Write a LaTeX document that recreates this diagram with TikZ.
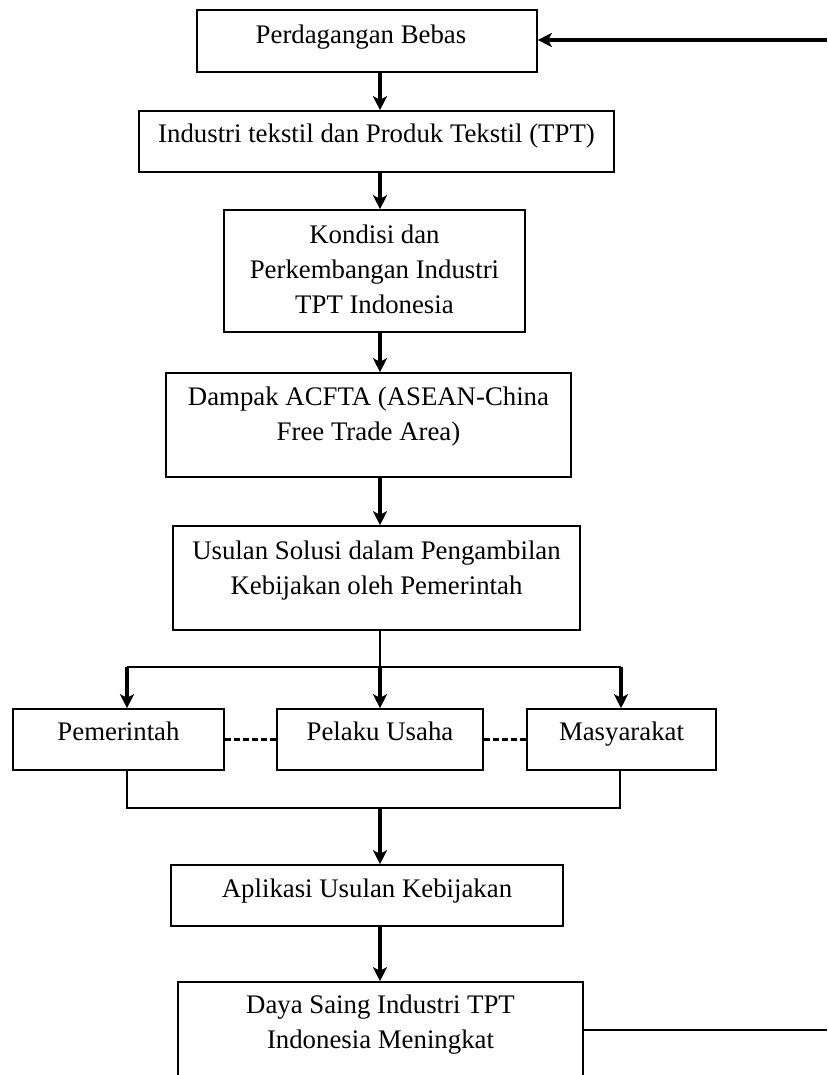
\documentclass[tikz,border=0pt]{standalone}
\usepackage{fontspec}
\setmainfont{Liberation Serif}
\usetikzlibrary{arrows.meta, positioning}

\begin{document}
\begin{tikzpicture}[
            x = 0.5pt, y = -0.5pt, % one unit per pixel, downwards
            box/.style={draw=black, line width=0.8pt, inner sep=0pt},
            txt/.style={anchor=north, inner sep=0pt, align=center, font=\fontsize{13.4}{17.5}\selectfont},
            flow/.style={-{Stealth[length=7pt, width=7pt, inset=1.8pt]}, line width=1.6pt},
            link/.style={line width=0.8pt},
            tie/.style={line width=1.6pt, dash pattern=on 3pt off 1.5pt}
        ]

        \useasboundingbox (0,0) rectangle (827,1075);
        \clip (0,0) rectangle (827,1075);

        % Main column boxes
        \node[box, minimum width=170pt, minimum height=31pt] (B-1) at (367,41) {};
        \node[box, minimum width=237.5pt, minimum height=30.5pt] (B-2) at (376.5,141.5) {};
        \node[box, minimum width=150.5pt, minimum height=61pt] (B-3) at (374.5,271) {};
        \node[box, minimum width=202.5pt, minimum height=52pt] (B-4) at (368.5,425) {};
        \node[box, minimum width=203.5pt, minimum height=52pt] (B-5) at (376.5,578) {};

        % Actor boxes
        \node[box, minimum width=105.5pt, minimum height=30.5pt] (R-1) at (118.5,739.5) {};
        \node[box, minimum width=103pt, minimum height=30.5pt] (R-2) at (380,739.5) {};
        \node[box, minimum width=94.5pt, minimum height=30.5pt] (R-3) at (621.5,739.5) {};

        % Result boxes
        \node[box, minimum width=196pt, minimum height=30.5pt] (B-6) at (367,895.5) {};
        \node[box, minimum width=202.5pt, minimum height=60pt] (B-7) at (380.5,1042) {};

        % Texts
        \node[txt] (T-1) at ([xshift=-3pt, yshift=-7.5pt]B-1.north) {Perdagangan Bebas};
        \node[txt] (T-2) at ([yshift=-6.5pt]B-2.north) {Industri tekstil dan Produk Tekstil (TPT)};
        \node[txt] (T-3) at ([yshift=-7.5pt]B-3.north) {Kondisi dan\\Perkembangan Industri\\TPT Indonesia};
        \node[txt] (T-4) at ([yshift=-7pt]B-4.north) {Dampak ACFTA (ASEAN-China\\Free Trade Area)};
        \node[txt] (T-5) at ([yshift=-7.5pt]B-5.north) {Usulan Solusi dalam Pengambilan\\Kebijakan oleh Pemerintah};
        \node[txt] (T-6) at ([yshift=-6.5pt]R-1.north) {Pemerintah};
        \node[txt] (T-7) at ([yshift=-6.5pt]R-2.north) {Pelaku Usaha};
        \node[txt] (T-8) at ([yshift=-6.5pt]R-3.north) {Masyarakat};
        \node[txt] (T-9) at ([yshift=-7pt]B-6.north) {Aplikasi Usulan Kebijakan};
        \node[txt] (T-10) at ([yshift=-6.5pt]B-7.north) {Daya Saing Industri TPT\\Indonesia Meningkat};

        % Helper points
        \coordinate (axis) at (380,0);
        \coordinate (split) at (380,667);
        \coordinate (split-L) at (127,667);
        \coordinate (split-R) at (621,667);
        \coordinate (join) at (380,808);
        \coordinate (join-L) at (127,808);
        \coordinate (join-R) at (620,808);
        \coordinate (loop-in) at (827,40);
        \coordinate (loop-out) at (827,1030);

        % Main flow
        \draw[flow] (B-1.south -| axis) -- (B-2.north -| axis);
        \draw[flow] (B-2.south -| axis) -- (B-3.north -| axis);
        \draw[flow] (B-3.south -| axis) -- (B-4.north -| axis);
        \draw[flow] (B-4.south -| axis) -- (B-5.north -| axis);

        % Branch to the actors
        \draw[link] (B-5.south -| axis) -- (split);
        \draw[link] (split-L) -- (split-R);
        \draw[flow] (split-L) -- (R-1.north -| split-L);
        \draw[flow] (split) -- (R-2.north -| split);
        \draw[flow] (split-R) -- (R-3.north -| split-R);
        \draw[tie] (R-1.east) -- (R-2.west);
        \draw[tie] (R-2.east) -- (R-3.west);

        % Join and result
        \draw[link] (R-1.south -| join-L) -- (join-L) -- (join-R) -- (R-3.south -| join-R);
        \draw[flow] (join) -- (B-6.north -| join);
        \draw[flow] (B-6.south -| axis) -- (B-7.north -| axis);

        % Feedback loop
        \draw[flow] (loop-in) -- (B-1.east |- loop-in);
        \draw[link] (B-7.east |- loop-out) -- (loop-out);

    \end{tikzpicture}
\end{document}
